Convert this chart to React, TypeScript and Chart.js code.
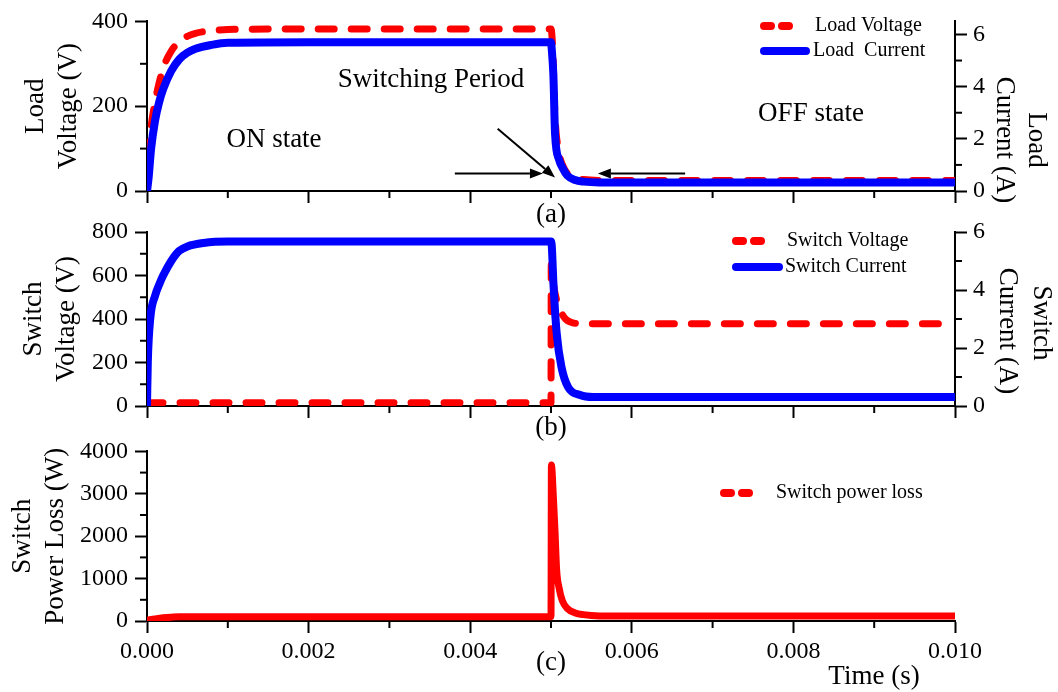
import React, { useEffect, useRef } from "react";
import { Chart, registerables } from "chart.js";

Chart.register(...registerables);

const FONT = "'Liberation Serif', 'Times New Roman', serif";
const RED = "#ff0000";
const BLUE = "#0000ff";

// ---------- shared time axis ----------
const timeMajor = [0, 0.002, 0.004, 0.006, 0.008, 0.01];
const timeMinor = [0.001, 0.003, 0.005, 0.007, 0.009];

// ---------- panel (a) ----------
const loadVoltageTime = [0, 0.00002, 0.00005, 0.0001, 0.00015, 0.0002, 0.0003, 0.0004, 0.0005, 0.0006, 0.0008, 0.001, 0.002, 0.003, 0.004, 0.005, 0.00502, 0.00505, 0.0051, 0.00515, 0.0052, 0.0053, 0.0054, 0.0056, 0.006, 0.007, 0.008, 0.009, 0.01];
const loadVoltage = [0, 90, 150, 210, 255, 290, 330, 352, 365, 372, 378, 381, 382, 382, 382, 382, 340, 175, 90, 58, 42, 31, 27, 25, 25, 25, 25, 25, 25];
const loadCurrentTime = [0, 0.00002, 0.00005, 0.0001, 0.00015, 0.0002, 0.0003, 0.0004, 0.0005, 0.0006, 0.0008, 0.001, 0.002, 0.003, 0.004, 0.005, 0.00501, 0.00503, 0.00505, 0.0051, 0.00515, 0.0052, 0.0053, 0.0054, 0.0056, 0.006, 0.007, 0.008, 0.009, 0.01];
const loadCurrent = [0, 0.5, 1.6, 2.7, 3.4, 3.9, 4.6, 5.05, 5.3, 5.45, 5.6, 5.68, 5.7, 5.7, 5.7, 5.7, 5.4, 4.4, 2.2, 1.2, 0.85, 0.6, 0.42, 0.36, 0.33, 0.33, 0.33, 0.33, 0.33, 0.33];
const loadVoltageTicks = [0, 200, 400];
const loadVoltageMinor = [100, 300];
const loadCurrentTicks = [0, 2, 4, 6];
const loadCurrentMinor = [1, 3, 5];
// arrows of the "Switching Period" annotation: [time, load voltage]
const arrowStarts = [[0.00381, 41], [0.00666, 41], [0.00434, 147]];
const arrowEnds = [[0.0049, 41], [0.00558, 41], [0.00505, 32]];

// ---------- panel (b) ----------
const switchVoltageTime = [0, 0.001, 0.002, 0.003, 0.004, 0.005, 0.005003, 0.00503, 0.00507, 0.0051, 0.00513, 0.00518, 0.00524, 0.0054, 0.006, 0.007, 0.008, 0.009, 0.01];
const switchVoltage = [15, 15, 15, 15, 15, 15, 650, 560, 487, 455, 428, 400, 386, 378, 378, 378, 378, 378, 378];
const switchCurrentTime = [0, 0.00001, 0.00004, 0.0001, 0.00016, 0.0002, 0.0003, 0.0004, 0.0005, 0.0007, 0.001, 0.002, 0.003, 0.004, 0.005, 0.00501, 0.00503, 0.00507, 0.00513, 0.00521, 0.00536, 0.00552, 0.006, 0.007, 0.008, 0.009, 0.01];
const switchCurrent = [0, 1.5, 3.0, 3.8, 4.25, 4.5, 5.0, 5.35, 5.5, 5.62, 5.67, 5.67, 5.67, 5.67, 5.67, 5.5, 4.24, 2.52, 1.34, 0.66, 0.38, 0.31, 0.31, 0.31, 0.31, 0.31, 0.31];
const switchVoltageTicks = [0, 200, 400, 600, 800];
const switchVoltageMinor = [100, 300, 500, 700];
const switchCurrentTicks = [0, 2, 4, 6];
const switchCurrentMinor = [1, 3, 5];

// ---------- panel (c) ----------
const powerLossTime = [0, 0.0001, 0.0002, 0.0003, 0.0004, 0.001, 0.002, 0.003, 0.004, 0.005, 0.005005, 0.00503, 0.00505, 0.00507, 0.0051, 0.00514, 0.0052, 0.0053, 0.0054, 0.0056, 0.006, 0.007, 0.008, 0.009, 0.01];
const powerLoss = [20, 50, 75, 90, 100, 100, 100, 100, 100, 100, 3680, 2900, 2100, 1200, 780, 480, 300, 190, 150, 120, 115, 115, 115, 115, 115];
const powerTicks = [0, 1000, 2000, 3000, 4000];
const powerMinor = [500, 1500, 2500, 3500];

const pts = (xs: number[], ys: number[]) => xs.map((x, i) => ({ x, y: ys[i] }));

// ---------- plugins ----------
const minorTicksPlugin = {
  id: "minorTicks",
  afterDraw(chart: any, _a: any, opts: any) {
    const ctx = chart.ctx;
    const len = opts.length || 7;
    ctx.save();
    ctx.strokeStyle = "#000";
    ctx.lineWidth = opts.width || 2;
    for (const entry of opts.scales || []) {
      const s = chart.scales[entry.id];
      if (!s) continue;
      for (const v of entry.values) {
        const p = s.getPixelForValue(v);
        ctx.beginPath();
        if (s.isHorizontal()) {
          ctx.moveTo(p, s.top);
          ctx.lineTo(p, s.top + len);
        } else if (s.position === "left") {
          ctx.moveTo(s.right, p);
          ctx.lineTo(s.right - len, p);
        } else {
          ctx.moveTo(s.left, p);
          ctx.lineTo(s.left + len, p);
        }
        ctx.stroke();
      }
    }
    ctx.restore();
  },
};

const panelLegendPlugin = {
  id: "panelLegend",
  afterDraw(chart: any, _a: any, opts: any) {
    const ctx = chart.ctx;
    ctx.save();
    for (const it of opts.items || []) {
      const ds = chart.data.datasets[it.dataset];
      ctx.beginPath();
      ctx.strokeStyle = ds.borderColor;
      ctx.lineWidth = it.lineWidth;
      ctx.lineCap = "round";
      ctx.setLineDash(it.dash ? [...it.dash] : []);
      ctx.moveTo(it.x1, it.y);
      ctx.lineTo(it.x2, it.y);
      ctx.stroke();
      ctx.setLineDash([]);
      ctx.fillStyle = "#000";
      ctx.font = `20px ${FONT}`;
      ctx.textBaseline = "middle";
      ctx.textAlign = "left";
      ctx.fillText(ds.label, it.textX, it.y);
    }
    ctx.restore();
  },
};

const arrowPlugin = {
  id: "arrows",
  afterDatasetsDraw(chart: any, _a: any, opts: any) {
    const starts = opts.starts || [];
    const ends = opts.ends || [];
    if (!starts.length) return;
    const xs = chart.scales.x;
    const ys = chart.scales.y;
    const ctx = chart.ctx;
    ctx.save();
    ctx.strokeStyle = "#000";
    ctx.fillStyle = "#000";
    ctx.lineWidth = 2;
    for (let i = 0; i < starts.length; i++) {
      const x1 = xs.getPixelForValue(starts[i][0]);
      const y1 = ys.getPixelForValue(starts[i][1]);
      const x2 = xs.getPixelForValue(ends[i][0]);
      const y2 = ys.getPixelForValue(ends[i][1]);
      const ang = Math.atan2(y2 - y1, x2 - x1);
      const hl = 13;
      const hw = 5;
      const bx = x2 - hl * Math.cos(ang);
      const by = y2 - hl * Math.sin(ang);
      ctx.beginPath();
      ctx.moveTo(x1, y1);
      ctx.lineTo(bx, by);
      ctx.stroke();
      ctx.beginPath();
      ctx.moveTo(x2, y2);
      ctx.lineTo(bx - hw * Math.sin(ang), by + hw * Math.cos(ang));
      ctx.lineTo(bx + hw * Math.sin(ang), by - hw * Math.cos(ang));
      ctx.closePath();
      ctx.fill();
    }
    ctx.restore();
  },
};

// ---------- scale helpers ----------
const tickFont = { family: FONT, size: 24 };
const titleFont = { family: FONT, size: 27 };
const gridOpts = { drawOnChartArea: false, tickLength: 12, tickWidth: 2, tickColor: "#000" };
const borderOpts = { color: "#000", width: 2 };
const plainLabel = (v: any) => String(v);

function xScale(showLabels: boolean, title: string, titlePadBottom: number, height: number) {
  return {
    type: "linear",
    position: "bottom",
    min: 0,
    max: 0.01,
    afterBuildTicks: (s: any) => {
      s.ticks = timeMajor.map((v) => ({ value: v }));
    },
    afterFit: (s: any) => {
      s.height = height;
    },
    ticks: {
      display: showLabels,
      font: tickFont,
      color: "#000",
      padding: 4,
      maxRotation: 0,
      autoSkip: false,
      callback: (v: any) => Number(v).toFixed(3),
    },
    grid: gridOpts,
    border: borderOpts,
    title: {
      display: true,
      text: title,
      font: titleFont,
      color: "#000",
      padding: { top: 0, bottom: titlePadBottom },
    },
  };
}

function leftScale(min: number, max: number, ticks: number[], title: string[], padTop: number) {
  return {
    type: "linear",
    position: "left",
    min,
    max,
    afterBuildTicks: (s: any) => {
      s.ticks = ticks.map((v) => ({ value: v }));
    },
    afterFit: (s: any) => {
      s.width = 147;
    },
    ticks: { font: tickFont, color: "#000", padding: 7, callback: plainLabel },
    grid: gridOpts,
    border: borderOpts,
    title: { display: true, text: title, font: titleFont, color: "#000", padding: { top: padTop, bottom: 0 } },
  };
}

function rightScale(min: number, max: number, ticks: number[]) {
  return {
    type: "linear",
    position: "right",
    min,
    max,
    afterBuildTicks: (s: any) => {
      s.ticks = ticks.map((v) => ({ value: v }));
    },
    afterFit: (s: any) => {
      s.width = 103;
    },
    ticks: { font: tickFont, color: "#000", padding: 6, callback: plainLabel },
    grid: gridOpts,
    border: borderOpts,
  };
}

const lineBase = {
  pointRadius: 0,
  fill: false,
  borderCapStyle: "round",
  borderJoinStyle: "round",
  cubicInterpolationMode: "monotone",
};

// ---------- chart configs ----------
function configA(): any {
  return {
    type: "line",
    data: {
      datasets: [
        { ...lineBase, label: "Load Voltage", data: pts(loadVoltageTime, loadVoltage), borderColor: RED, backgroundColor: RED, borderWidth: 7, borderDash: [16, 17], yAxisID: "y", order: 1 },
        { ...lineBase, label: "Load  Current", data: pts(loadCurrentTime, loadCurrent), borderColor: BLUE, backgroundColor: BLUE, borderWidth: 8, yAxisID: "y2", order: 0 },
      ],
    },
    options: {
      animation: false,
      responsive: false,
      events: [],
      layout: { padding: { top: 17, left: 0, right: 0, bottom: 0 } },
      scales: {
        x: xScale(false, "(a)", 1, 41),
        y: leftScale(0, 400, loadVoltageTicks, ["Load", "Voltage (V)"], 20),
        y2: rightScale(0, 6.5, loadCurrentTicks),
      },
      plugins: {
        legend: { display: false },
        tooltip: { enabled: false },
        minorTicks: {
          length: 7,
          width: 2,
          scales: [
            { id: "x", values: timeMinor },
            { id: "y", values: loadVoltageMinor },
            { id: "y2", values: loadCurrentMinor },
          ],
        },
        panelLegend: {
          items: [
            { dataset: 0, x1: 764, x2: 789, y: 26, textX: 815, dash: [7, 11], lineWidth: 8 },
            { dataset: 1, x1: 764, x2: 806, y: 51, textX: 813, lineWidth: 8 },
          ],
        },
        arrows: { starts: arrowStarts, ends: arrowEnds },
      },
    },
    plugins: [minorTicksPlugin, panelLegendPlugin, arrowPlugin],
  };
}

function configB(): any {
  return {
    type: "line",
    data: {
      datasets: [
        { ...lineBase, label: "Switch Voltage", data: pts(switchVoltageTime, switchVoltage), borderColor: RED, backgroundColor: RED, borderWidth: 7, borderDash: [16, 17], yAxisID: "y", order: 1 },
        { ...lineBase, label: "Switch Current", data: pts(switchCurrentTime, switchCurrent), borderColor: BLUE, backgroundColor: BLUE, borderWidth: 8, yAxisID: "y2", order: 0 },
      ],
    },
    options: {
      animation: false,
      responsive: false,
      events: [],
      layout: { padding: { top: 32, left: 0, right: 0, bottom: 0 } },
      scales: {
        x: xScale(false, "(b)", 6, 44),
        y: leftScale(0, 800, switchVoltageTicks, ["Switch", "Voltage (V)"], 18),
        y2: rightScale(0, 6, switchCurrentTicks),
      },
      plugins: {
        legend: { display: false },
        tooltip: { enabled: false },
        minorTicks: {
          length: 7,
          width: 2,
          scales: [
            { id: "x", values: timeMinor },
            { id: "y", values: switchVoltageMinor },
            { id: "y2", values: switchCurrentMinor },
          ],
        },
        panelLegend: {
          items: [
            { dataset: 0, x1: 736, x2: 761, y: 41, textX: 787, dash: [7, 11], lineWidth: 8 },
            { dataset: 1, x1: 736, x2: 779, y: 67, textX: 785, lineWidth: 8 },
          ],
        },
      },
    },
    plugins: [minorTicksPlugin, panelLegendPlugin],
  };
}

function configC(): any {
  return {
    type: "line",
    data: {
      datasets: [
        { ...lineBase, label: "Switch power loss", data: pts(powerLossTime, powerLoss), borderColor: RED, backgroundColor: RED, borderWidth: 7, yAxisID: "y" },
      ],
    },
    options: {
      animation: false,
      responsive: false,
      events: [],
      layout: { padding: { top: 17, left: 0, right: 103, bottom: 0 } },
      scales: {
        x: xScale(true, "(c)", 13, 71),
        y: leftScale(0, 4000, powerTicks, ["Switch", "Power Loss (W)"], 7),
      },
      plugins: {
        legend: { display: false },
        tooltip: { enabled: false },
        minorTicks: {
          length: 7,
          width: 2,
          scales: [
            { id: "x", values: timeMinor },
            { id: "y", values: powerMinor },
          ],
        },
        panelLegend: {
          items: [{ dataset: 0, x1: 724, x2: 749, y: 63, textX: 776, dash: [7, 11], lineWidth: 8 }],
        },
      },
    },
    plugins: [minorTicksPlugin, panelLegendPlugin],
  };
}

// ---------- components ----------
function Panel({ top, height, make }: { top: number; height: number; make: () => any }) {
  const ref = useRef<HTMLCanvasElement>(null);
  useEffect(() => {
    if (!ref.current) return;
    const chart = new Chart(ref.current, make());
    return () => chart.destroy();
  }, [make]);
  return (
    <div style={{ position: "absolute", left: 0, top, width: 1058, height }}>
      <canvas ref={ref} width={1058} height={height} style={{ width: 1058, height, display: "block" }} />
    </div>
  );
}

function Txt({ x, y, size = 27, rotate = 0, children }: { x: number; y: number; size?: number; rotate?: number; children: any }) {
  return (
    <div
      style={{
        position: "absolute",
        left: x,
        top: y,
        transform: `translate(-50%, -50%)${rotate ? ` rotate(${rotate}deg)` : ""}`,
        fontFamily: FONT,
        fontSize: size,
        lineHeight: 1,
        whiteSpace: "pre",
        color: "#000",
      }}
    >
      {children}
    </div>
  );
}

export default function App() {
  return (
    <div style={{ position: "absolute", left: 0, top: 0, width: 1058, height: 692, background: "#fff", overflow: "hidden" }}>
      <Panel top={0} height={232} make={configA} />
      <Panel top={200} height={250} make={configB} />
      <Panel top={430} height={262} make={configC} />
      <Txt x={274} y={138}>ON state</Txt>
      <Txt x={431} y={78}>Switching Period</Txt>
      <Txt x={811} y={112}>OFF state</Txt>
      <Txt x={1037} y={140} rotate={90}>Load</Txt>
      <Txt x={1005} y={140} rotate={90}>Current (A)</Txt>
      <Txt x={1042} y={323} rotate={90}>Switch</Txt>
      <Txt x={1008} y={331} rotate={90}>Current (A)</Txt>
      <Txt x={874} y={675}>Time (s)</Txt>
    </div>
  );
}
